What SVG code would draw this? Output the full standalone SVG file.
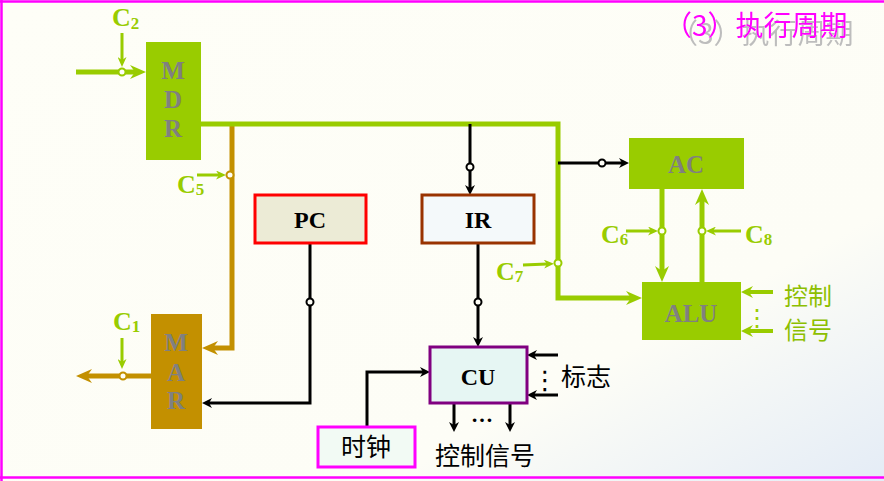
<svg xmlns="http://www.w3.org/2000/svg" width="884" height="481" viewBox="0 0 884 481">
<defs>
<linearGradient id="bg" x1="0" y1="0" x2="1" y2="1">
<stop offset="0" stop-color="#FEFEF7"/>
<stop offset="0.72" stop-color="#FDFDF6"/>
<stop offset="1" stop-color="#E4ECF6"/>
</linearGradient>
<filter id="shadow" x="-10%" y="-30%" width="130%" height="180%">
<feDropShadow dx="6" dy="8" stdDeviation="0.6" flood-color="#BDBDBD" flood-opacity="1"/>
</filter>
<marker id="mG" markerUnits="userSpaceOnUse" viewBox="0 0 16 14" markerWidth="16" markerHeight="14" refX="5" refY="7" orient="auto"><path d="M0,0 L16,7 L0,14 L5,7 z" fill="#99CC00"/></marker>
<marker id="mO" markerUnits="userSpaceOnUse" viewBox="0 0 16 14" markerWidth="16" markerHeight="14" refX="5" refY="7" orient="auto"><path d="M0,0 L16,7 L0,14 L5,7 z" fill="#C39000"/></marker>
<marker id="mGm" markerUnits="userSpaceOnUse" viewBox="0 0 12 12" markerWidth="12" markerHeight="12" refX="4" refY="6" orient="auto"><path d="M0,0 L12,6 L0,12 L4,6 z" fill="#99CC00"/></marker>
<marker id="mGs" markerUnits="userSpaceOnUse" viewBox="0 0 10 9" markerWidth="10" markerHeight="9" refX="3" refY="4.5" orient="auto"><path d="M0,0 L10,4.5 L0,9 L3,4.5 z" fill="#99CC00"/></marker>
<marker id="mK" markerUnits="userSpaceOnUse" viewBox="0 0 10 10" markerWidth="10" markerHeight="10" refX="3" refY="5" orient="auto"><path d="M0,0 L10,5 L0,10 L3,5 z" fill="#000"/></marker>
</defs>
<style>
.reg{font-family:"Liberation Serif","Times New Roman",serif;font-weight:bold;font-size:25px;fill:#808080;text-anchor:middle}
.lbl{font-family:"Liberation Serif","Times New Roman",serif;font-weight:bold;font-size:24px;fill:#000;text-anchor:middle}
.cjk{font-family:"Noto Sans CJK SC","Noto Sans CJK JP",sans-serif;font-size:25px;fill:#000}
.cjkg{font-family:"Noto Sans CJK SC","Noto Sans CJK JP",sans-serif;font-size:24px;fill:#8DBF00}
.c{font-family:"Liberation Serif","Times New Roman",serif;font-weight:bold;font-size:26px;fill:#99CC00}
.c tspan{font-size:17px}
.bus{fill:none;stroke:#99CC00;stroke-width:5}
.obus{fill:none;stroke:#C39000;stroke-width:5}
.blk{fill:none;stroke:#000;stroke-width:3}
.cl{fill:none;stroke:#99CC00;stroke-width:3}
.gin{fill:none;stroke:#99CC00;stroke-width:4}
.dot{fill:#FEFEF7;stroke-width:2}
</style>
<rect x="0" y="0" width="884" height="481" fill="url(#bg)"/>
<g id="frame" stroke="#FF00FF" stroke-width="2.5" fill="none">
<line x1="0" y1="1.5" x2="884" y2="1.5"/>
<line x1="1.5" y1="0" x2="1.5" y2="481"/>
<line x1="0" y1="477.5" x2="884" y2="477.5"/>
</g>
<g id="title">
<text x="664" y="36" font-family="Noto Sans CJK SC,sans-serif" font-size="28" fill="#FF00FF" filter="url(#shadow)">（3）执行周期</text>
</g>
<g id="connectors">
<line class="bus" x1="76" y1="72" x2="135" y2="72" marker-end="url(#mG)"/>
<path class="obus" d="M232,124 V348 H213" marker-end="url(#mO)"/>
<path class="bus" d="M201,124 H558 V298 H631" marker-end="url(#mG)"/>
<line class="obus" x1="151" y1="376" x2="87" y2="376" marker-end="url(#mO)"/>
<path class="blk" d="M310,244 V403 H209" marker-end="url(#mK)"/>
<line class="blk" x1="470" y1="124" x2="470" y2="188" marker-end="url(#mK)"/>
<line class="blk" x1="478" y1="244" x2="478" y2="340" marker-end="url(#mK)"/>
<path class="blk" d="M367,427 V372 H423" marker-end="url(#mK)"/>
<line class="blk" x1="454" y1="403" x2="454" y2="425" marker-end="url(#mK)"/>
<line class="blk" x1="510" y1="403" x2="510" y2="425" marker-end="url(#mK)"/>
<line class="blk" x1="558" y1="355" x2="534" y2="355" marker-end="url(#mK)"/>
<line class="blk" x1="558" y1="395" x2="534" y2="395" marker-end="url(#mK)"/>
<line class="blk" x1="558" y1="163" x2="622" y2="163" marker-end="url(#mK)"/>
<line class="bus" x1="662" y1="189" x2="662" y2="271" marker-end="url(#mG)"/>
<line class="bus" x1="702" y1="282" x2="702" y2="200" marker-end="url(#mG)"/>
<line class="gin" x1="773" y1="292" x2="749" y2="292" marker-end="url(#mGm)"/>
<line class="gin" x1="773" y1="331" x2="749" y2="331" marker-end="url(#mGm)"/>
<line class="cl" x1="122" y1="33" x2="122" y2="60" marker-end="url(#mGs)"/>
<line class="cl" x1="122" y1="338" x2="122" y2="362" marker-end="url(#mGs)"/>
<line class="cl" x1="197" y1="175" x2="219" y2="175" marker-end="url(#mGs)"/>
<line class="cl" x1="523" y1="265" x2="547" y2="264" marker-end="url(#mGs)"/>
<line class="cl" x1="626" y1="231" x2="651" y2="231" marker-end="url(#mGs)"/>
<line class="cl" x1="741" y1="231" x2="713" y2="231" marker-end="url(#mGs)"/>
<circle class="dot" cx="122" cy="72" r="3.5" stroke="#99CC00"/>
<circle class="dot" cx="230" cy="175" r="3.5" stroke="#C39000"/>
<circle class="dot" cx="123" cy="376" r="3.5" stroke="#C39000"/>
<circle class="dot" cx="310" cy="302" r="3.5" stroke="#000"/>
<circle class="dot" cx="470" cy="167" r="3.5" stroke="#000"/>
<circle class="dot" cx="478" cy="302" r="3.5" stroke="#000"/>
<circle class="dot" cx="602" cy="163" r="3.5" stroke="#000"/>
<circle class="dot" cx="558" cy="263" r="3.5" stroke="#99CC00"/>
<circle class="dot" cx="662" cy="231" r="3.5" stroke="#99CC00"/>
<circle class="dot" cx="702" cy="231" r="3.5" stroke="#99CC00"/>
</g>
<g id="MDR">
<rect x="146" y="42" width="55" height="118" fill="#99CC00"/>
<text class="reg" x="173" y="79">M</text>
<text class="reg" x="173" y="108">D</text>
<text class="reg" x="173" y="137">R</text>
</g>
<g id="MAR">
<rect x="151" y="314" width="51" height="115" fill="#C39000"/>
<text class="reg" x="176" y="351">M</text>
<text class="reg" x="176" y="381">A</text>
<text class="reg" x="176" y="409">R</text>
</g>
<g id="PC">
<rect x="255" y="195" width="111" height="48" fill="#ECEBD6" stroke="#FF0000" stroke-width="3"/>
<text class="lbl" x="310" y="228">PC</text>
</g>
<g id="IR">
<rect x="422" y="195" width="112" height="48" fill="#F4F9FA" stroke="#993300" stroke-width="3"/>
<text class="lbl" x="478" y="228">IR</text>
</g>
<g id="CU">
<rect x="430" y="347" width="97" height="56" fill="#E6F6F3" stroke="#800080" stroke-width="3"/>
<text class="lbl" x="478" y="385">CU</text>
</g>
<g id="clock">
<rect x="318" y="427" width="97" height="40" fill="#F2FAF4" stroke="#FF00FF" stroke-width="3"/>
<text class="cjk" x="366" y="456" text-anchor="middle">时钟</text>
</g>
<g id="AC">
<rect x="629" y="138" width="115" height="51" fill="#99CC00"/>
<text class="reg" x="686" y="173">AC</text>
</g>
<g id="ALU">
<rect x="642" y="282" width="99" height="58" fill="#99CC00"/>
<text class="reg" x="691" y="322">ALU</text>
</g>
<g id="labels">
<text class="c" x="112" y="26">C<tspan dy="3">2</tspan></text>
<text class="c" x="177" y="193">C<tspan dy="2">5</tspan></text>
<text class="c" x="113" y="330">C<tspan dy="2">1</tspan></text>
<text class="c" x="496" y="280">C<tspan dy="2">7</tspan></text>
<text class="c" x="601" y="243">C<tspan dy="2">6</tspan></text>
<text class="c" x="745" y="243">C<tspan dy="2">8</tspan></text>
<text x="482" y="422" font-family="Liberation Serif,serif" font-weight="bold" font-size="22" text-anchor="middle">…</text>
<text class="cjk" x="485" y="465" text-anchor="middle">控制信号</text>
<text x="545" y="389" font-family="DejaVu Sans,sans-serif" font-size="26" text-anchor="middle">⋮</text>
<text class="cjk" x="561" y="386">标志</text>
<text x="757" y="326" font-family="DejaVu Sans,sans-serif" font-size="24" fill="#99CC00" text-anchor="middle">⋮</text>
<text class="cjkg" x="784" y="305">控制</text>
<text class="cjkg" x="784" y="339">信号</text>
</g>
</svg>
